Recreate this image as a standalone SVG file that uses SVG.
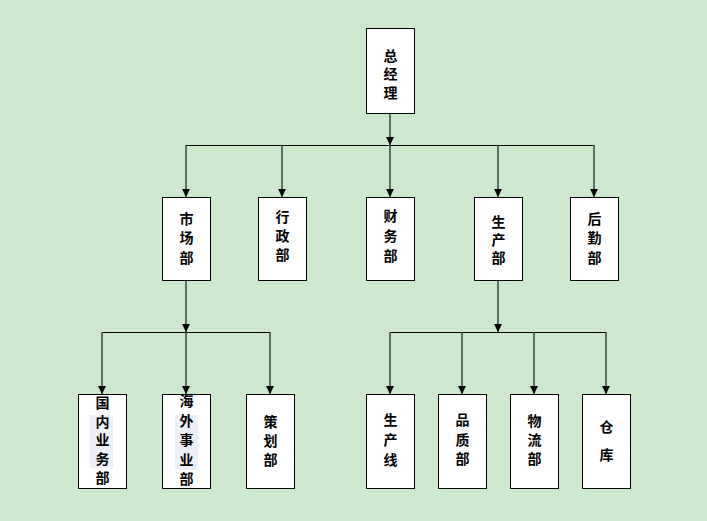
<svg xmlns="http://www.w3.org/2000/svg" width="707" height="521" viewBox="0 0 707 521">
<defs>
<marker id="arr" viewBox="0 0 10 10" refX="10" refY="5" markerWidth="8" markerHeight="8" markerUnits="userSpaceOnUse" orient="auto">
<path d="M0,0 L10,5 L0,10 Z" fill="#000"/>
</marker>
<style>
.box{fill:#fff;stroke:#000;stroke-width:1}
.t{font-family:"Noto Sans CJK SC","Noto Sans CJK JP",sans-serif;font-size:14px;font-weight:bold;fill:#000;text-anchor:middle;writing-mode:vertical-rl;text-orientation:upright}
.v{fill:none;stroke:#354a35;stroke-width:1.5}
.h{fill:none;stroke:#000;stroke-width:1}
.hl{fill:#eef0f8}
</style>
</defs>
<rect width="707" height="521" fill="#cde8cd"/>
<g id="connectors">
<line class="v" x1="390" y1="113" x2="390" y2="145" marker-end="url(#arr)"/>
<line class="h" x1="186" y1="145.5" x2="594" y2="145.5"/>
<line class="v" x1="186" y1="145" x2="186" y2="197" marker-end="url(#arr)"/>
<line class="v" x1="282" y1="145" x2="282" y2="197" marker-end="url(#arr)"/>
<line class="v" x1="390" y1="145" x2="390" y2="197" marker-end="url(#arr)"/>
<line class="v" x1="498" y1="145" x2="498" y2="197" marker-end="url(#arr)"/>
<line class="v" x1="594" y1="145" x2="594" y2="197" marker-end="url(#arr)"/>
<line class="v" x1="186" y1="280" x2="186" y2="332" marker-end="url(#arr)"/>
<line class="h" x1="102" y1="332.5" x2="270" y2="332.5"/>
<line class="v" x1="102" y1="332" x2="102" y2="394" marker-end="url(#arr)"/>
<line class="v" x1="186" y1="332" x2="186" y2="394" marker-end="url(#arr)"/>
<line class="v" x1="270" y1="332" x2="270" y2="394" marker-end="url(#arr)"/>
<line class="v" x1="498" y1="280" x2="498" y2="332" marker-end="url(#arr)"/>
<line class="h" x1="390" y1="332.5" x2="606" y2="332.5"/>
<line class="v" x1="390" y1="332" x2="390" y2="394" marker-end="url(#arr)"/>
<line class="v" x1="462" y1="332" x2="462" y2="394" marker-end="url(#arr)"/>
<line class="v" x1="534" y1="332" x2="534" y2="394" marker-end="url(#arr)"/>
<line class="v" x1="606" y1="332" x2="606" y2="394" marker-end="url(#arr)"/>
</g>
<g id="n-zongjingli">
<rect class="box" x="366.5" y="28.5" width="48" height="85"/>
<text class="t" x="390.5" y="76" letter-spacing="4.5">总经理</text>
</g>
<g id="n-shichangbu">
<rect class="box" x="162.5" y="197.5" width="48" height="83"/>
<text class="t" x="186.5" y="240.5" letter-spacing="5.5">市场部</text>
</g>
<g id="n-xingzhengbu">
<rect class="box" x="258.5" y="197.5" width="48" height="83"/>
<text class="t" x="282.5" y="238.5" letter-spacing="5">行政部</text>
</g>
<g id="n-caiwubu">
<rect class="box" x="366.5" y="197.5" width="48" height="83"/>
<text class="t" x="390.5" y="238.5" letter-spacing="6">财务部</text>
</g>
<g id="n-shengchanbu">
<rect class="box" x="474.5" y="197.5" width="48" height="83"/>
<text class="t" x="498.5" y="242" letter-spacing="4">生产部</text>
</g>
<g id="n-houqinbu">
<rect class="box" x="570.5" y="197.5" width="48" height="83"/>
<text class="t" x="594.5" y="240.5" letter-spacing="5.5">后勤部</text>
</g>
<g id="n-guonei">
<rect class="box" x="78.5" y="394.5" width="48" height="94"/>
<rect class="hl" x="90" y="415" width="23" height="53"/>
<text class="t" x="102.5" y="442.5" letter-spacing="4.75">国内业务部</text>
</g>
<g id="n-haiwai">
<rect class="box" x="162.5" y="394.5" width="48" height="94"/>
<rect class="hl" x="175" y="415" width="23" height="55"/>
<text class="t" x="186.5" y="442.5" letter-spacing="5.5">海外事业部</text>
</g>
<g id="n-cehua">
<rect class="box" x="246.5" y="394.5" width="48" height="94"/>
<text class="t" x="270.5" y="443.5" letter-spacing="5">策划部</text>
</g>
<g id="n-shengchanxian">
<rect class="box" x="366.5" y="394.5" width="48" height="94"/>
<text class="t" x="390.5" y="443" letter-spacing="6">生产线</text>
</g>
<g id="n-pinzhi">
<rect class="box" x="438.5" y="394.5" width="48" height="94"/>
<text class="t" x="462.5" y="442" letter-spacing="5.5">品质部</text>
</g>
<g id="n-wuliu">
<rect class="box" x="510.5" y="394.5" width="48" height="94"/>
<text class="t" x="534.5" y="442.5" letter-spacing="5">物流部</text>
</g>
<g id="n-cangku">
<rect class="box" x="582.5" y="394.5" width="48" height="94"/>
<text class="t" x="606.5" y="448" letter-spacing="14">仓库</text>
</g>
</svg>
